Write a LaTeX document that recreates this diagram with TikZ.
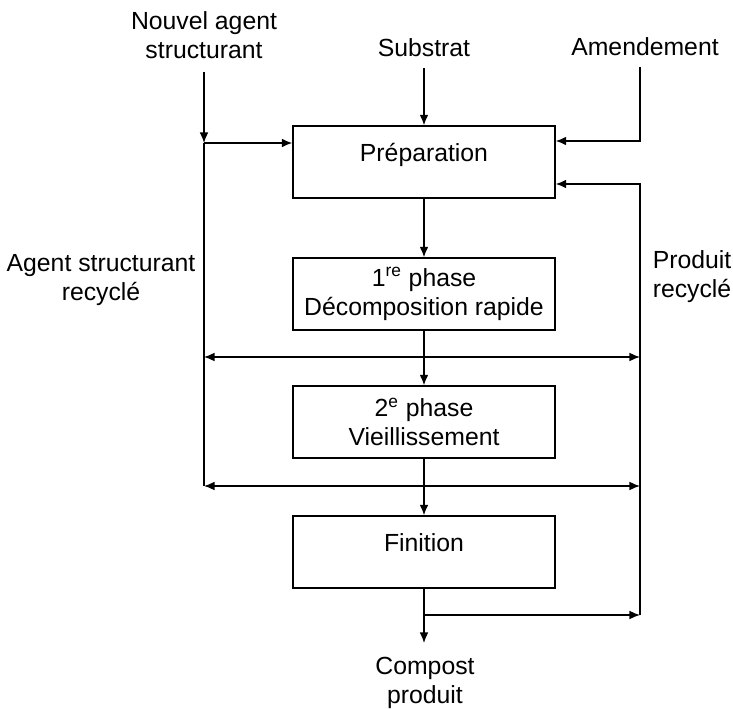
\documentclass[tikz,border=0pt]{standalone}
\usepackage{fontspec}
\setmainfont{Liberation Sans}
\usetikzlibrary{shapes,arrows,arrows.meta,positioning}
\tikzstyle{box} = [rectangle, draw, line width=0.8pt, minimum width=5.24cm, minimum height=1.44cm, inner sep=0pt, align=center]
\tikzstyle{tbox} = [box, text depth=1.05em]
\tikzstyle{txt} = [align=center, inner sep=0pt]
\tikzstyle{line} = [draw, line width=0.8pt]
\tikzstyle{arr} = [line, -{Latex[length=6pt,width=5pt]}]
\tikzstyle{darr} = [line, {Latex[length=6pt,width=5pt]}-{Latex[length=6pt,width=5pt]}]

\begin{document}
\begin{tikzpicture}[x=0.02cm, y=-0.02cm, font=\fontsize{14.1}{16.6}\selectfont]
	\useasboundingbox (0,0) rectangle (733,709);
	% entrees
	\node [txt] (nouvel) at (204,35) {Nouvel agent\\structurant};
	\node [txt] (substrat) at (424,48) {Substrat};
	\node [txt] (amend) at (645,47) {Amendement};
	% etapes
	\node [tbox] (prep) at (424,162) {Préparation};
	\node [box] (ph1) at (424,294) {1\textsuperscript{re} phase\\Décomposition rapide};
	\node [box] (ph2) at (424,422) {2\textsuperscript{e} phase\\Vieillissement};
	\node [tbox] (fin) at (424,552) {Finition};
	% recyclage et sortie
	\node [txt] (asr) at (101,280) {Agent structurant\\recyclé};
	\node [txt] (prr) at (692,277) {Produit\\recyclé};
	\node [txt] (compost) at (425,683) {Compost\\produit};

	\coordinate (n0) at (204,72);
	\coordinate (n1) at (204,143);
	\coordinate (l1) at (204,357);
	\coordinate (l2) at (204,486);
	\coordinate (s0) at (424,68);
	\coordinate (a0) at (640,67);
	\coordinate (a1) at (640,141);
	\coordinate (r0) at (640,184);
	\coordinate (r1) at (640,357);
	\coordinate (r2) at (640,486);
	\coordinate (r3) at (640,615);
	\coordinate (f1) at (424,615);
	\coordinate (f2) at (424,643);

	\path [arr] (n0) -- (n1);
	\path [arr] (n1) -- (n1 -| prep.west);
	\path [line] (n1) -- (l2);
	\path [arr] (s0) -- (s0 |- prep.north);
	\path [arr] (a0) -- (a1) -- (a1 -| prep.east);
	\path [arr] (r3) -- (r0) -- (r0 -| prep.east);
	\path [arr] (prep) -- (ph1);
	\path [arr] (ph1) -- (ph2);
	\path [arr] (ph2) -- (fin);
	\path [darr] (l1) -- (r1);
	\path [darr] (l2) -- (r2);
	\path [arr] (fin) -- (f2);
	\path [arr] (f1) -- (r3);
\end{tikzpicture}
\end{document}
